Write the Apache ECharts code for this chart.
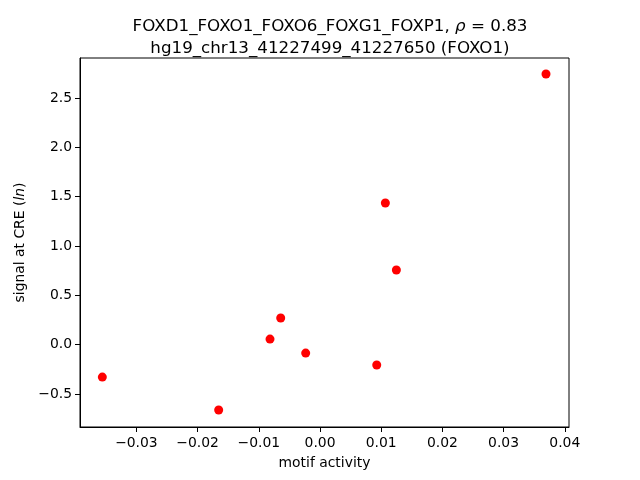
<!DOCTYPE html>
<html>
<head>
<meta charset="utf-8">
<script src="https://cdn.jsdelivr.net/npm/echarts@6/dist/echarts.min.js"></script>
<style>html,body{margin:0;padding:0;background:#fff}#c{width:640px;height:480px}</style>
</head>
<body>
<div id="c"></div>
<script>
var motifActivity = [0.03693, 0.01068, 0.01248, -0.00642, -0.00817, -0.00234, 0.00927, -0.03557, -0.01656];
var signalAtCRE = [2.743, 1.436, 0.757, 0.270, 0.057, -0.085, -0.206, -0.328, -0.662];
var xTicks = [-0.03, -0.02, -0.01, 0.00, 0.01, 0.02, 0.03, 0.04];
var yTicks = [-0.5, 0.0, 0.5, 1.0, 1.5, 2.0, 2.5];
var titleLine1 = 'FOXD1_FOXO1_FOXO6_FOXG1_FOXP1, ';
var rhoText = '0.83';
var titleLine2 = 'hg19_chr13_41227499_41227650 (FOXO1)';

var F = 'DejaVu Sans';
function fmt(d) {
  return function (v) {
    var s = Math.abs(v).toFixed(d);
    return (v < -1e-9 ? '\u2212' : '') + s;
  };
}
var pts = motifActivity.map(function (x, i) { return [x, signalAtCRE[i]]; });
var chart = echarts.init(document.getElementById('c'), null, {renderer: 'canvas'});
chart.setOption({
  animation: false,
  backgroundColor: '#fff',
  title: {
    text: titleLine1 + '{i|\u03c1} = ' + rhoText + '\n' + titleLine2,
    left: 325, top: 11, textAlign: 'center',
    textStyle: {
      fontFamily: F, fontSize: 16.7, fontWeight: 'normal', color: '#000', lineHeight: 22,
      rich: { i: { fontFamily: F, fontSize: 16.7, fontStyle: 'italic', color: '#000', lineHeight: 22 } }
    }
  },
  grid: { left: 80, right: 71, top: 58, bottom: 53, show: true, borderColor: '#000', borderWidth: 1, containLabel: false },
  xAxis: {
    type: 'value', min: -0.03922, max: 0.04069,
    name: 'motif activity', nameLocation: 'middle', nameGap: 29,
    nameTextStyle: { fontFamily: F, fontSize: 13.9, color: '#000' },
    axisLine: { show: true, onZero: false, lineStyle: { color: '#000', width: 1 } },
    axisTick: { show: true, inside: false, length: 5, lineStyle: { color: '#000' }, customValues: xTicks },
    axisLabel: { fontFamily: F, fontSize: 13.9, color: '#000', margin: 9, formatter: fmt(2), customValues: xTicks, showMinLabel: true, showMaxLabel: true },
    splitLine: { show: false }
  },
  yAxis: {
    type: 'value', min: -0.834, max: 2.905,
    name: 'signal at CRE ({i|ln})', nameLocation: 'middle', nameGap: 52, nameRotate: 90,
    nameTextStyle: { fontFamily: F, fontSize: 13.9, color: '#000',
      rich: { i: { fontFamily: F, fontSize: 13.9, fontStyle: 'italic', color: '#000' } } },
    axisLine: { show: true, onZero: false, lineStyle: { color: '#000', width: 1 } },
    axisTick: { show: true, inside: false, length: 5, lineStyle: { color: '#000' }, customValues: yTicks },
    axisLabel: { fontFamily: F, fontSize: 13.9, color: '#000', margin: 8, formatter: fmt(1), customValues: yTicks },
    splitLine: { show: false }
  },
  series: [{
    type: 'scatter',
    data: pts,
    symbol: 'circle',
    symbolSize: 9,
    itemStyle: { color: '#ff0000', opacity: 1 }
  }]
});
</script>
</body>
</html>
